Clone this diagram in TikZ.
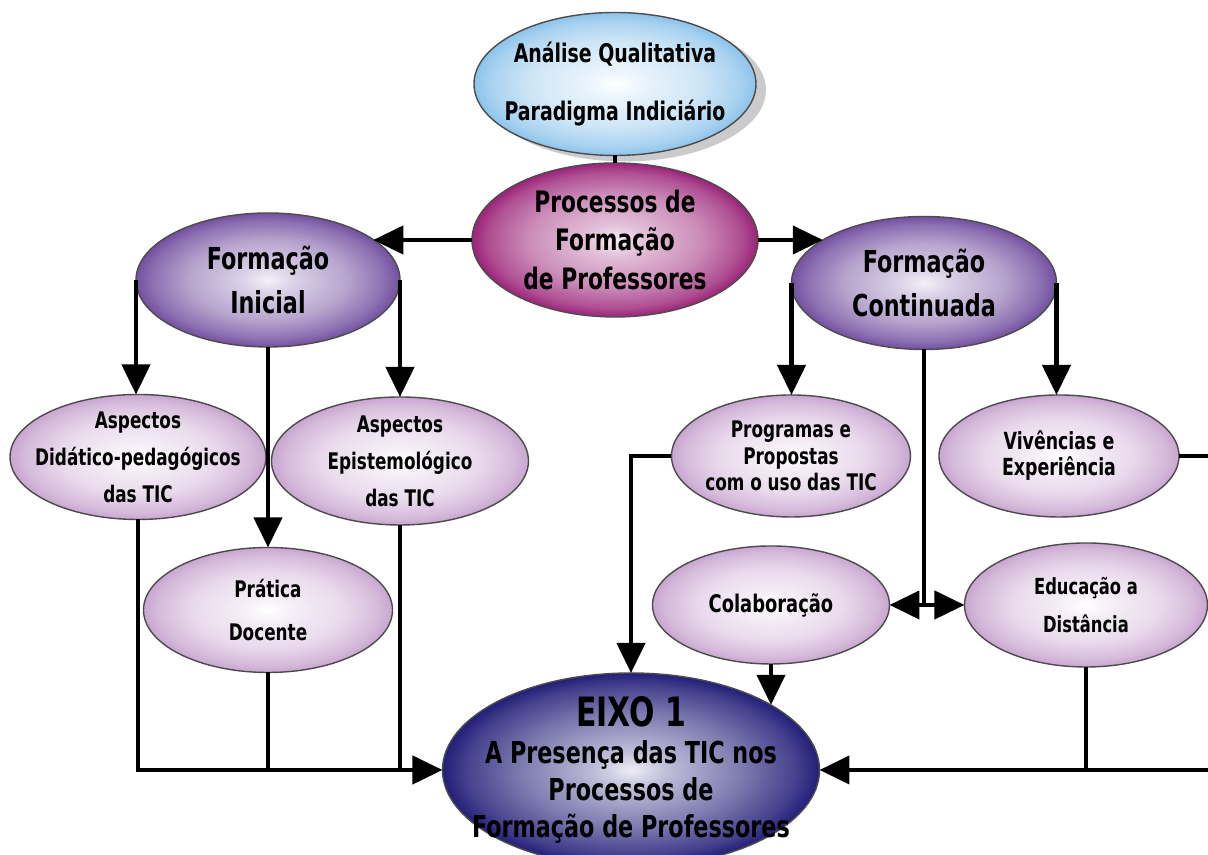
\documentclass[tikz,border=0pt]{standalone}
\usepackage{fontspec}
\setmainfont{DejaVu Sans Condensed}[FakeStretch=0.82]
\usepackage{tikz}
\usetikzlibrary{arrows.meta,shapes.geometric,shadows}
\definecolor{anablue}{RGB}{140,195,235}
\definecolor{procmag}{RGB}{155,35,120}
\definecolor{formpur}{RGB}{115,80,160}
\definecolor{sublil}{RGB}{192,150,200}
\definecolor{eixonavy}{RGB}{35,30,120}
\pgfdeclareradialshading{anashade}{\pgfpoint{0bp}{0bp}}{color(0bp)=(white); color(5bp)=(anablue!18!white); color(15bp)=(anablue!42!white); color(22bp)=(anablue!75!white); color(25bp)=(anablue); color(50bp)=(anablue)}
\pgfdeclareradialshading{procshade}{\pgfpoint{0bp}{0bp}}{color(0bp)=(white!92!procmag); color(5bp)=(procmag!28!white); color(15bp)=(procmag!52!white); color(22bp)=(procmag!80!white); color(25bp)=(procmag); color(50bp)=(procmag)}
\pgfdeclareradialshading{formshade}{\pgfpoint{0bp}{0bp}}{color(0bp)=(white!92!formpur); color(5bp)=(formpur!26!white); color(15bp)=(formpur!52!white); color(22bp)=(formpur!82!white); color(25bp)=(formpur); color(50bp)=(formpur)}
\pgfdeclareradialshading{subshade}{\pgfpoint{0bp}{0bp}}{color(0bp)=(white); color(5bp)=(sublil!15!white); color(15bp)=(sublil!35!white); color(22bp)=(sublil!65!white); color(25bp)=(sublil!85!white); color(50bp)=(sublil!85!white)}
\pgfdeclareradialshading{eixoshade}{\pgfpoint{0bp}{0bp}}{color(0bp)=(white!92!eixonavy); color(5bp)=(eixonavy!30!white); color(15bp)=(eixonavy!60!white); color(22bp)=(eixonavy!85!white); color(25bp)=(eixonavy); color(50bp)=(eixonavy)}
\tikzstyle{bub}=[ellipse, draw=black!70, line width=.4pt, inner sep=-2cm, outer sep=0pt, align=center]
\tikzstyle{anabub}=[bub, shading=anashade, font=\bfseries\fontsize{7.3}{16.5}\selectfont,
  drop shadow={shadow xshift=.1cm, shadow yshift=-.06cm, opacity=.45, fill=black!45}]
\tikzstyle{procbub}=[bub, shading=procshade, font=\bfseries\fontsize{8.4}{11}\selectfont]
\tikzstyle{formbub}=[bub, shading=formshade, font=\bfseries\fontsize{8.6}{12.3}\selectfont]
\tikzstyle{subbub}=[bub, shading=subshade, font=\bfseries\fontsize{6.5}{10.5}\selectfont]
\tikzstyle{eixobub}=[bub, shading=eixoshade, font=\bfseries\fontsize{8.6}{10.5}\selectfont]
\tikzstyle{conn}=[line width=1.2pt]
\tikzstyle{arrline}=[conn, -{Triangle[length=3mm,width=2.8mm]}]

\begin{document}
\begin{tikzpicture}
    \useasboundingbox[fill=white] (0,0) rectangle (12.08,8.55);
    \node[anabub, minimum width=2.82cm, minimum height=1.43cm] (ana) at (6.15,7.71)
      {Análise Qualitativa\\Paradigma Indiciário};
    \node[procbub, minimum width=2.86cm, minimum height=1.54cm] (proc) at (6.15,6.15)
      {Processos de\\Formação\\de Professores};
    \node[formbub, minimum width=2.64cm, minimum height=1.34cm] (ini) at (2.68,5.75)
      {Formação\\Inicial};
    \node[formbub, minimum width=2.65cm, minimum height=1.33cm] (cont) at (9.24,5.72)
      {Formação\\Continuada};
    \node[subbub, minimum width=2.56cm, minimum height=1.25cm] (asp1) at (1.38,3.98)
      {Aspectos\\Didático-pedagógicos\\das TIC};
    \node[subbub, minimum width=2.57cm, minimum height=1.28cm] (asp2) at (4.00,3.94)
      {Aspectos\\Epistemológico\\das TIC};
    \node[subbub, minimum width=2.49cm, minimum height=1.25cm, font=\bfseries\fontsize{6.5}{12}\selectfont]
      (prat) at (2.68,2.45) {Prática\\Docente};
    \node[subbub, minimum width=2.39cm, minimum height=1.22cm, font=\bfseries\fontsize{6.5}{7.6}\selectfont]
      (prog) at (7.91,3.99) {Programas e\\Propostas\\com o uso das TIC};
    \node[subbub, minimum width=2.40cm, minimum height=1.22cm, font=\bfseries\fontsize{6.7}{7.4}\selectfont]
      (viv) at (10.59,3.99) {Vivências e\\Experiência};
    \node[subbub, minimum width=2.37cm, minimum height=1.18cm, font=\bfseries\fontsize{6.9}{10}\selectfont]
      (colab) at (7.71,2.50) {Colaboração};
    \node[subbub, minimum width=2.43cm, minimum height=1.24cm, font=\bfseries\fontsize{6.3}{10.8}\selectfont]
      (edu) at (10.86,2.50) {Educação a\\Distância};
    \node[eixobub, minimum width=3.77cm, minimum height=1.94cm] (eixo) at (6.31,0.85)
      {{\fontsize{11.5}{10.5}\selectfont EIXO 1}\\A Presença das TIC nos\\Processos de\\Formação de Professores};

    \coordinate (jct) at (cont.south |- colab.east);
    \coordinate (offv) at (12.08,3.99);
    \coordinate (offr) at (12.08,0.85);

    \draw[conn] (ana) -- (proc);
    \draw[arrline] (proc.west) -- (proc.west -| ini.21);
    \draw[arrline] (proc.east) -- (proc.east -| cont.157);
    \foreach \from/\to in {ini.west/asp1.north, ini.east/asp2.north, ini.south/prat.north,
          cont.west/prog.north, cont.east/viv.north, colab.south/eixo.25}
      \draw[arrline] (\from) -- (\from |- \to);
    \draw[conn] (cont.south) -- (jct);
    \draw[arrline] (jct) -- (colab.east);
    \draw[arrline] (jct) -- (edu.west);
    \draw[arrline] (prog.west) -| (eixo.north);
    \draw[arrline] (asp1.south) |- (eixo.west);
    \foreach \from in {prat.south, asp2.south}
      \draw[conn] (\from) -- (\from |- eixo.west);
    \draw[conn] (viv.east) -- (offv);
    \draw[arrline] (offr) -- (eixo.east);
    \draw[conn] (edu.south) -- (edu.south |- eixo.east);
\end{tikzpicture}
\end{document}
